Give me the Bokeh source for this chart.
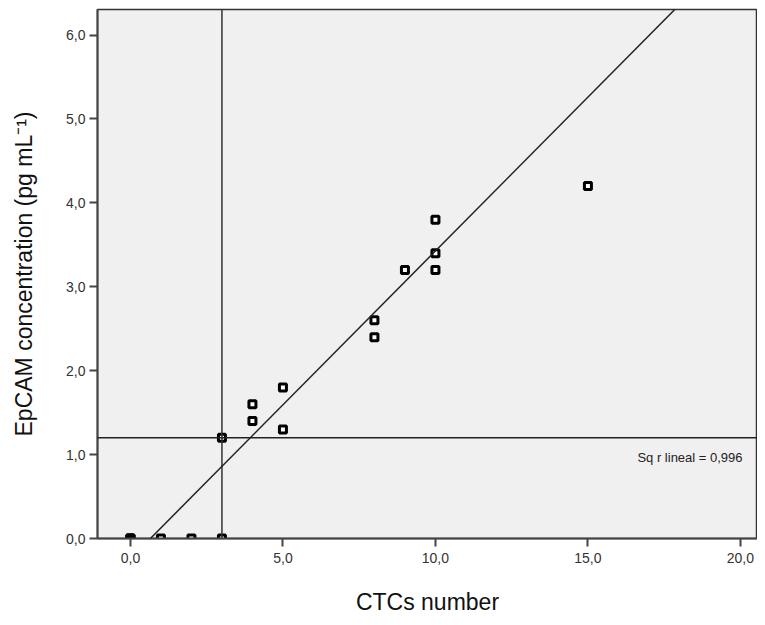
from bokeh.plotting import figure
from bokeh.models import Range1d, Span, Slope, Label, ColumnDataSource, FixedTicker
from bokeh.embed import file_html
from bokeh.resources import INLINE
from collections import Counter

# ---- data ----
ctc_number = [0, 0, 0, 1, 2, 3, 3, 4, 4, 5, 5, 8, 8, 9, 10, 10, 10, 15]
epcam_conc = [0, 0, 0, 0, 0, 0, 1.2, 1.4, 1.6, 1.3, 1.8, 2.4, 2.6, 3.2, 3.2, 3.4, 3.8, 4.2]

cutoff_x = 3.0      # vertical reference line
cutoff_y = 1.2      # horizontal reference line
fit_slope = 0.3667
fit_intercept = -0.24
fit_label = "Sq r lineal = 0,996"

x_ticks = [0, 5, 10, 15, 20]
x_tick_labels = ["0,0", "5,0", "10,0", "15,0", "20,0"]
y_ticks = [0, 1, 2, 3, 4, 5, 6]
y_tick_labels = ["0,0", "1,0", "2,0", "3,0", "4,0", "5,0", "6,0"]

x_title = "CTCs number"
y_title = "EpCAM concentration (pg mL\u207b\u00b9)"

# ---- figure ----
FONT = "Liberation Sans"
p = figure(width=757, height=617, output_backend="svg", toolbar_location=None,
           x_range=Range1d(-1.08, 20.56), y_range=Range1d(0, 6.305),
           min_border_left=97, min_border_right=0, min_border_top=9, min_border_bottom=79)

p.background_fill_color = "#f0f0f0"
p.border_fill_color = "white"
p.outline_line_color = "#333333"
p.outline_line_width = 1.5
p.grid.visible = False

for ax in (p.xaxis[0], p.yaxis[0]):
    ax.axis_line_color = "#444444"
    ax.axis_line_width = 2
    ax.major_tick_line_color = "#444444"
    ax.major_tick_line_width = 2
    ax.major_tick_in = 0
    ax.major_tick_out = 8
    ax.minor_tick_line_color = None
    ax.major_label_text_font = FONT
    ax.major_label_text_font_size = "14px"
    ax.major_label_text_color = "#333333"
    ax.axis_label_text_font = FONT
    ax.axis_label_text_font_size = "23px"
    ax.axis_label_text_font_style = "normal"
    ax.axis_label_text_color = "#111111"

p.xaxis.ticker = FixedTicker(ticks=x_ticks)
p.xaxis.major_label_overrides = dict(zip(x_ticks, x_tick_labels))
p.yaxis.ticker = FixedTicker(ticks=y_ticks)
p.yaxis.major_label_overrides = dict(zip(y_ticks, y_tick_labels))
p.xaxis.major_label_standoff = 6
p.yaxis.major_label_standoff = 4
p.xaxis.axis_label = x_title
p.yaxis.axis_label = y_title
p.xaxis.axis_label_standoff = 23
p.yaxis.axis_label_standoff = 26

# reference lines and fit
p.add_layout(Span(location=cutoff_x, dimension="height", line_color="#333333", line_width=1.5))
p.add_layout(Span(location=cutoff_y, dimension="width", line_color="#222222", line_width=1.5))
p.add_layout(Slope(gradient=fit_slope, y_intercept=fit_intercept, line_color="#222222", line_width=1.5))

# points (overlapping duplicates drawn darker)
counts = Counter(zip(ctc_number, epcam_conc))
fills = ["black" if counts[(x, y)] > 1 else "white" for x, y in zip(ctc_number, epcam_conc)]
src = ColumnDataSource(dict(x=ctc_number, y=epcam_conc, fill=fills))
p.scatter("x", "y", source=src, marker="square", size=7, line_width=3,
          line_color="black", fill_color="fill")

p.add_layout(Label(x=20.07, y=0.965, text=fit_label, text_align="right", text_baseline="middle",
                   text_font=FONT, text_font_size="13px", text_color="#222222"))

open("out.html", "w").write(file_html(p, INLINE))
